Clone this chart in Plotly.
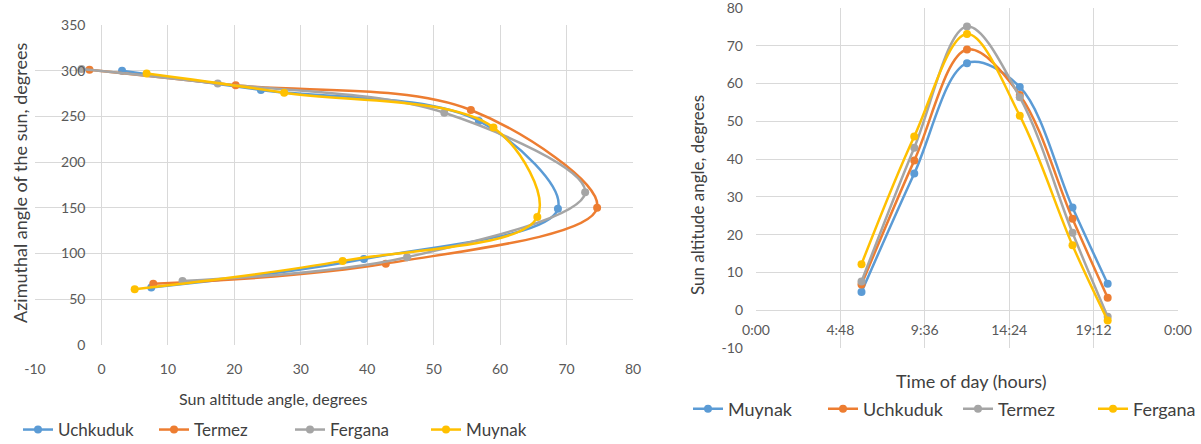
import plotly.graph_objects as go

# ---------------- data ----------------
times_h = [6, 9, 12, 15, 18, 20]  # hours of day

# Left chart: sun altitude (x) vs azimuth (y)
left_names = ["Uchkuduk", "Termez", "Fergana", "Muynak"]
left_alt = {
    "Uchkuduk": [7.5, 39.5, 68.7, 56.8, 24.0, 3.1],
    "Termez":   [7.8, 42.8, 74.6, 55.6, 20.2, -1.8],
    "Fergana":  [12.2, 46.0, 72.8, 51.6, 17.5, -3.0],
    "Muynak":   [5.0, 36.3, 65.6, 59.0, 27.5, 6.8],
}
left_az = {
    "Uchkuduk": [63, 94, 149, 245, 279, 300],
    "Termez":   [67, 89, 150, 257, 284, 301],
    "Fergana":  [70, 96, 167, 254, 286, 302],
    "Muynak":   [61, 92, 140, 238, 276, 297],
}
left_x_ticks = [-10, 0, 10, 20, 30, 40, 50, 60, 70, 80]
left_x_text = ["-10", "0", "10", "20", "30", "40", "50", "60", "70", "80"]
left_y_ticks = [0, 50, 100, 150, 200, 250, 300, 350]

# Right chart: sun altitude vs time of day
right_names = ["Muynak", "Uchkuduk", "Termez", "Fergana"]
right_alt = {
    "Muynak":   [4.8, 36.2, 65.4, 59.1, 27.2, 7.0],
    "Uchkuduk": [6.8, 39.6, 69.0, 57.0, 24.2, 3.3],
    "Termez":   [7.6, 43.0, 75.1, 56.4, 20.5, -1.7],
    "Fergana":  [12.2, 46.0, 73.1, 51.5, 17.2, -2.7],
}
right_x_ticks = [0, 4.8, 9.6, 14.4, 19.2, 24]
right_x_text = ["0:00", "4:48", "9:36", "14:24", "19:12", "0:00"]
right_y_ticks = [-10, 0, 10, 20, 30, 40, 50, 60, 70, 80]
right_y_text = ["-10", "0", "10", "20", "30", "40", "50", "60", "70", "80"]

colors = ["#5B9BD5", "#ED7D31", "#A5A5A5", "#FFC000"]

# ---------------- layout geometry ----------------
W, H = 1201, 444
def px(x):
    return x / W
def py(y):
    return 1 - y / H

L_xd = [px(35), px(633)]
L_yd = [py(345), py(25)]
R_xd = [px(756), px(1178)]
R_yd = [py(348), py(8)]

tick_font = dict(family="Lato", size=14, color="#595959")
title_color = "#404040"
grid = "#D9D9D9"

fig = go.Figure()

for name, c in zip(left_names, colors):
    fig.add_trace(go.Scatter(
        x=left_alt[name], y=left_az[name], name=name,
        mode="lines+markers",
        line=dict(color=c, width=2.5, shape="spline", smoothing=1.0),
        marker=dict(color=c, size=8),
        xaxis="x", yaxis="y", legend="legend",
    ))

for name, c in zip(right_names, colors):
    fig.add_trace(go.Scatter(
        x=times_h, y=right_alt[name], name=name,
        mode="lines+markers",
        line=dict(color=c, width=2.5, shape="spline", smoothing=1.0),
        marker=dict(color=c, size=8),
        xaxis="x2", yaxis="y2", legend="legend2",
    ))

fig.update_layout(
    width=W, height=H,
    margin=dict(l=0, r=0, t=0, b=0, autoexpand=False),
    paper_bgcolor="white", plot_bgcolor="white",
    font=dict(family="Lato", color=title_color),
    xaxis=dict(domain=L_xd, range=[-10, 80], tickvals=left_x_ticks,
               ticktext=left_x_text, anchor="y",
               showgrid=True, gridcolor=grid, gridwidth=1, zeroline=False,
               showline=False, ticks="", tickfont=tick_font,
               ticklabelstandoff=14),
    yaxis=dict(domain=L_yd, range=[0, 350], tickvals=left_y_ticks, anchor="free",
               position=L_xd[0] + (10 / 90) * (L_xd[1] - L_xd[0]),
               showgrid=True, gridcolor=grid, gridwidth=1, zeroline=False,
               showline=False, ticks="", tickfont=tick_font,
               ticklabelstandoff=16),
    xaxis2=dict(domain=R_xd, range=[0, 24], tickvals=right_x_ticks,
                ticktext=right_x_text, anchor="free",
                position=R_yd[0] + (10 / 90) * (R_yd[1] - R_yd[0]),
                showgrid=True, gridcolor=grid, gridwidth=1, zeroline=False,
                showline=False, ticks="", tickfont=tick_font,
                ticklabelstandoff=10),
    yaxis2=dict(domain=R_yd, range=[-10, 80], tickvals=right_y_ticks,
                ticktext=right_y_text, anchor="x2",
                showgrid=True, gridcolor=grid, gridwidth=1, zeroline=False,
                showline=False, ticks="", tickfont=tick_font,
                ticklabelstandoff=12, ticklabeloverflow="allow"),
    legend=dict(orientation="h", x=px(18), y=py(430), xanchor="left",
                yanchor="middle", font=dict(family="Lato", size=17, color=title_color),
                entrywidth=91, entrywidthmode="pixels", bgcolor="rgba(0,0,0,0)",
                itemclick=False),
    legend2=dict(orientation="h", x=px(688), y=py(409), xanchor="left",
                 yanchor="middle", font=dict(family="Lato", size=18, color=title_color),
                 entrywidth=90, entrywidthmode="pixels", bgcolor="rgba(0,0,0,0)",
                 itemclick=False),
    showlegend=True,
)

fig.add_annotation(text="Azimuthal angle of the sun, degrees", textangle=-90,
                   x=px(20), y=py(183), xref="paper", yref="paper",
                   xanchor="center", yanchor="middle",
                   showarrow=False, font=dict(family="Lato", size=18, color=title_color))
fig.add_annotation(text="Sun altitude angle, degrees",
                   x=px(273), y=py(398), xref="paper", yref="paper",
                   xanchor="center", yanchor="middle",
                   showarrow=False, font=dict(family="Lato", size=16, color=title_color))
fig.add_annotation(text="Sun altitude angle, degrees", textangle=-90,
                   x=px(697), y=py(195), xref="paper", yref="paper",
                   xanchor="center", yanchor="middle",
                   showarrow=False, font=dict(family="Lato", size=17, color=title_color))
fig.add_annotation(text="Time of day (hours)",
                   x=px(971), y=py(381), xref="paper", yref="paper",
                   xanchor="center", yanchor="middle",
                   showarrow=False, font=dict(family="Lato", size=18, color=title_color))

fig.write_html("out.html",
               config={"displayModeBar": False},
               post_script="document.body.style.margin='0';document.body.style.overflow='hidden';")
